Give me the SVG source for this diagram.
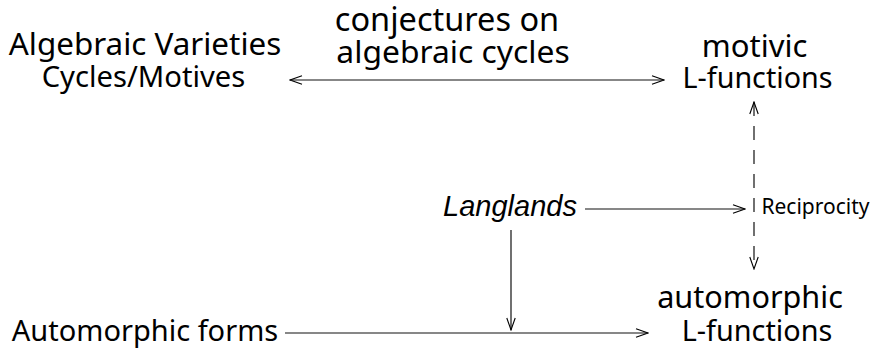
<svg xmlns="http://www.w3.org/2000/svg" width="873" height="348" viewBox="0 0 873 348">
<defs>
<marker id="ah" viewBox="0 0 14 10" refX="13" refY="5" markerWidth="14" markerHeight="10" markerUnits="userSpaceOnUse" orient="auto-start-reverse">
<path d="M1,0.8 L13,5 L1,9.2" fill="none" stroke="#000" stroke-width="1.1"/>
</marker>
</defs>
<style>
text{font-family:"Noto Sans",sans-serif;fill:#000;text-anchor:middle}
.it{font-family:"Liberation Sans",sans-serif;font-style:italic}
.ln{stroke:#111;stroke-width:1.2;fill:none}
</style>
<g id="alg"><text x="145" y="55" font-size="31.4">Algebraic Varieties</text><text x="143.5" y="87" font-size="29.2">Cycles/Motives</text></g>
<g id="conj"><text x="447" y="31" font-size="32.5">conjectures on</text><text x="453" y="63" font-size="31.8">algebraic cycles</text></g>
<g id="motivic"><text x="754.5" y="57" font-size="31">motivic</text><text x="757.5" y="88" font-size="28.7">L-functions</text></g>
<g id="langlands"><text class="it" x="510" y="216" font-size="29">Langlands</text></g>
<g id="recip"><text x="815.5" y="214" font-size="21">Reciprocity</text></g>
<g id="autoL"><text x="750" y="308" font-size="30.6">automorphic</text><text x="757" y="341" font-size="28.8">L-functions</text></g>
<g id="autoF"><text x="145" y="341" font-size="29">Automorphic forms</text></g>
<g id="connectors">
<line class="ln" x1="290" y1="80" x2="664" y2="80" marker-start="url(#ah)" marker-end="url(#ah)"/>
<line class="ln" x1="754" y1="102" x2="754" y2="269" stroke-dasharray="14,10" marker-start="url(#ah)" marker-end="url(#ah)"/>
<line class="ln" x1="585" y1="209" x2="745" y2="209" marker-end="url(#ah)"/>
<line class="ln" x1="511" y1="230" x2="511" y2="330" marker-end="url(#ah)"/>
<line class="ln" x1="285" y1="333" x2="648" y2="333" marker-end="url(#ah)"/>
</g>
</svg>
